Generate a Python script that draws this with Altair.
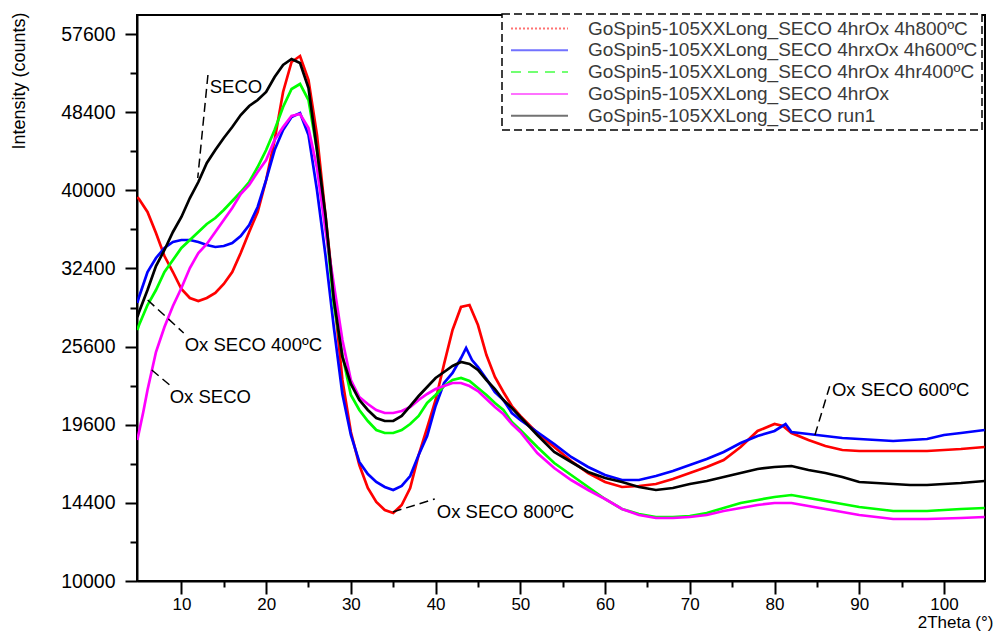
import altair as alt
import pandas as pd

FONT = "Liberation Sans"

series_names = [
    "GoSpin5-105XXLong_SECO 4hrOx 4h800ºC",
    "GoSpin5-105XXLong_SECO 4hrxOx 4h600ºC",
    "GoSpin5-105XXLong_SECO 4hrOx 4hr400ºC",
    "GoSpin5-105XXLong_SECO 4hrOx",
    "GoSpin5-105XXLong_SECO run1",
]
series_colors = ["#ff0000", "#0000ff", "#00ff00", "#ff00ff", "#000000"]
legend_dashes = [[2, 2], [1, 0], [10, 7], [1, 0], [1, 0]]

grid_a = [4.8, 5, 6, 7, 8, 9, 10, 11, 12, 13, 14, 15, 16, 17, 18, 19, 20, 21, 22, 23, 24,
          25, 26, 27, 28, 29, 30, 31, 32, 33, 34, 35, 36, 37, 38, 39, 40, 41, 42, 43, 44,
          45, 46, 47, 48, 49, 50, 52, 54, 56, 58, 60, 62, 64, 66, 68, 70, 72, 74, 76, 78, 80]

red_x = grid_a + [81, 82, 84, 86, 88, 90, 94, 98, 102, 104.8]
red_y = [39315, 39113, 37811, 35747, 33555, 32073, 30534, 29734, 29470, 29734, 30175, 30983,
         32073, 33838, 35846, 37811, 41063, 45314, 50697, 54214, 54929, 52089, 45860, 37512,
         29998, 22937, 19083, 16820, 15327, 14453, 13964, 13783, 14269, 15327, 17490, 19365,
         21412, 24193, 26975, 28944, 29118, 27397, 24913, 23168, 22014, 20964, 20230, 19011,
         18037, 17085, 16293, 15710, 15391, 15455, 15582, 15904, 16293, 16688, 17153, 18037,
         19152, 19650, 19508, 19011, 18520, 18104, 17830, 17761, 17761, 17761, 17900, 18037]

blue_x = [4.8, 5, 6, 7, 8, 9, 10, 11, 12, 13, 14, 15, 16, 17, 18, 19, 20, 21, 22, 23, 24,
          25, 26, 27, 28, 29, 30, 31, 32, 33, 34, 35, 36, 37, 38, 39, 40, 41, 42, 43, 43.6, 44.3,
          45, 46, 47, 48, 49, 50, 52, 54, 56, 58, 60, 62, 64, 66, 68, 70, 72, 74, 76, 78, 80,
          81.3, 82, 84, 86, 88, 90, 94, 98, 100, 102, 104.8]
blue_y = [29293, 29822, 32073, 33369, 34310, 34883, 35074, 35074, 34883, 34596, 34407, 34500,
          34786, 35457, 36527, 38310, 41063, 44230, 46410, 47856, 48303, 45860, 40032, 33650,
          27145, 21865, 18871, 17020, 16228, 15710, 15391, 15201, 15455, 16096, 17490, 18800,
          20964, 22704, 23482, 24674, 25485, 24511, 23954, 23013, 22014, 21412, 20449, 19940,
          19083, 18244, 17355, 16688, 16162, 15838, 15838, 16096, 16423, 16820, 17221, 17694,
          18312, 18800, 19152, 19650, 19083, 18941, 18800, 18660, 18589, 18450, 18589, 18871,
          19011, 19224]

green_x = grid_a + [82, 84, 86, 88, 90, 94, 98, 102, 104.8]
green_y = [26975, 27397, 29118, 30443, 32073, 33182, 34310, 35074, 35846, 36623, 37214, 38009,
           38912, 39826, 40853, 42420, 44230, 46410, 48983, 51044, 51624, 49778, 44230, 36822,
           29118, 24913, 21789, 20670, 19867, 19224, 19011, 19011, 19224, 19650, 20230, 21188,
           21789, 22473, 22937, 23092, 22858, 22320, 21789, 21188, 20670, 19795, 19224, 18037,
           16952, 16162, 15391, 14639, 14026, 13724, 13544, 13544, 13605, 13783, 14085, 14390,
           14576, 14762, 14887, 14699, 14515, 14330, 14147, 13905, 13905, 14026, 14085]

magenta_x = [4.8, 5, 5.5] + grid_a[2:] + [82, 84, 86, 88, 90, 94, 98, 102, 104.8]
magenta_y = [18520, 19083, 20523, 22168, 25157, 27228, 29032, 30622, 32440, 33838, 34693, 35846,
             37018, 38209, 39621, 40546, 41894, 43164, 45314, 46742, 47969, 48193, 46634, 42317,
             36039, 30892, 26140, 22937, 21636, 21112, 20670, 20449, 20449, 20596, 20892, 21412,
             21863, 22243, 22473, 22704, 22704, 22473, 22091, 21486, 20892, 20375, 19650, 19083,
             17625, 16621, 15838, 15201, 14639, 14026, 13663, 13484, 13484, 13544, 13663, 13905,
             14085, 14269, 14390, 14390, 14208, 14026, 13844, 13663, 13425, 13425, 13484, 13544]

black_x = grid_a + [82, 84, 86, 88, 90, 92, 94, 96, 98, 100, 102, 104.8]
black_y = [28080, 28510, 30443, 32624, 34122, 35846, 37315, 39216, 40853, 42845, 44230, 45535,
           46742, 48079, 49096, 49778, 50697, 52441, 53857, 54574, 54094, 51158, 44230, 37512,
           29556, 24753, 22627, 21412, 20670, 20085, 19867, 19867, 20230, 20964, 21712, 22395,
           23092, 23559, 24034, 24352, 24193, 23719, 22937, 22243, 21412, 20817, 20158, 18871,
           17694, 17020, 16358, 15967, 15710, 15391, 15201, 15327, 15582, 15775, 16033, 16293,
           16556, 16688, 16753, 16489, 16293, 16033, 15710, 15645, 15582, 15518, 15518, 15582,
           15645, 15775]

ann_text = ["SECO", "Ox SECO 400ºC", "Ox SECO", "Ox SECO 800ºC", "Ox SECO 600ºC"]
ann_x = [13.34, 10.39, 8.62, 40.14, 86.78]
ann_y = [51275, 25728, 21636, 13844, 22168]
lead_x1 = [13.13, 6.02, 6.5, 34.95, 84.77]
lead_y1 = [52675, 29556, 23719, 13844, 18871]
lead_x2 = [11.93, 10.27, 8.62, 39.9, 86.66]
lead_y2 = [41270, 26726, 22551, 14639, 22780]

x_major = [10, 20, 30, 40, 50, 60, 70, 80, 90, 100]
x_minor = [15, 25, 35, 45, 55, 65, 75, 85, 95]
y_major = [10000, 14400, 19600, 25600, 32400, 40000, 48400, 57600]
y_minor = [12100, 16900, 22500, 28900, 36100, 44100, 52900]

rows = []
for name, xs, ys in zip(series_names,
                        [red_x, blue_x, green_x, magenta_x, black_x],
                        [red_y, blue_y, green_y, magenta_y, black_y]):
    for a, b in zip(xs, ys):
        rows.append({"series": name, "theta": a, "counts": b})
df = pd.DataFrame(rows)

ann_df = pd.DataFrame({"label": ann_text, "x": ann_x, "y": ann_y})
lead_df = pd.DataFrame({"x1": lead_x1, "y1": lead_y1, "x2": lead_x2, "y2": lead_y2})

xscale = alt.Scale(domain=[4.76, 104.84], nice=False, zero=False)
yscale = alt.Scale(type="sqrt", domain=[10000, 59960], nice=False, zero=False)
cscale = alt.Scale(domain=series_names, range=series_colors)

leg = alt.Legend(orient="none", legendX=365, legendY=-1, title=None,
                 symbolType="M-3,0H3", symbolSize=361, symbolStrokeWidth=2,
                 symbolOpacity=0.55, symbolOffset=23, labelOffset=38,
                 labelFont=FONT, labelFontSize=19, labelColor="#3a3a3a",
                 labelLimit=600, rowPadding=0.8, padding=4)

lines = alt.Chart(df).mark_line(strokeWidth=2.7, clip=True).encode(
    x=alt.X("theta:Q", scale=xscale, axis=alt.Axis(
        values=x_major, format="d", title="2Theta (°)", grid=False,
        domainColor="black", domainWidth=2, tickColor="black", tickWidth=2, tickSize=13,
        labelFont=FONT, labelFontSize=17, labelColor="black", labelPadding=2, labelFlush=False,
        titleFont=FONT, titleFontSize=17, titleFontWeight="normal", titleColor="black",
        titleAlign="right", titleBaseline="middle", titleX=856, titleY=41)),
    y=alt.Y("counts:Q", scale=yscale, axis=alt.Axis(
        values=y_major, format="d", title="Intensity (counts)", grid=False,
        domainColor="black", domainWidth=2, tickColor="black", tickWidth=2, tickSize=12,
        labelFont=FONT, labelFontSize=19.5, labelColor="black", labelPadding=10,
        titleFont=FONT, titleFontSize=18, titleFontWeight="normal", titleColor="black",
        titleAngle=270, titleAlign="right", titleBaseline="middle", titleX=-118, titleY=-3)),
    color=alt.Color("series:N", scale=cscale, legend=leg),
)

dummy = alt.Chart(df).transform_filter("false").mark_line().encode(
    x=alt.X("theta:Q", scale=xscale, axis=alt.Axis(
        values=x_minor, orient="bottom", labels=False, domain=False, grid=False,
        tickColor="black", tickWidth=2, tickSize=6, title=None)),
    y=alt.Y("counts:Q", scale=yscale, axis=alt.Axis(
        values=y_minor, orient="left", labels=False, domain=False, grid=False,
        tickColor="black", tickWidth=2, tickSize=7, title=None)),
    color=alt.Color("series:N", scale=cscale, legend=leg),
    strokeDash=alt.StrokeDash("series:N", scale=alt.Scale(domain=series_names, range=legend_dashes),
                              legend=leg),
)

rules = alt.Chart(lead_df).mark_rule(strokeDash=[9, 5], strokeWidth=1.5, color="black").encode(
    x=alt.X("x1:Q", scale=xscale, axis=None),
    y=alt.Y("y1:Q", scale=yscale, axis=None),
    x2="x2:Q",
    y2="y2:Q",
)

texts = alt.Chart(ann_df).mark_text(align="left", baseline="middle", fontSize=18.5,
                                    font=FONT, color="black").encode(
    x=alt.X("x:Q", scale=xscale, axis=None),
    y=alt.Y("y:Q", scale=yscale, axis=None),
    text="label:N",
)

chart = alt.layer(lines, dummy, rules, texts).resolve_axis(
    x="independent", y="independent"
).properties(
    width=848, height=566,
    autosize=alt.AutoSizeParams(type="none"),
    padding={"left": 129, "top": 7, "right": 10, "bottom": 50},
).configure_view(
    stroke="black", strokeWidth=2
).configure_legend(
    strokeColor="black", strokeDash=[8, 4], strokeWidth=1.5, fillColor="white"
)

chart.save("out.html", embed_options={"renderer": "svg", "actions": False})
